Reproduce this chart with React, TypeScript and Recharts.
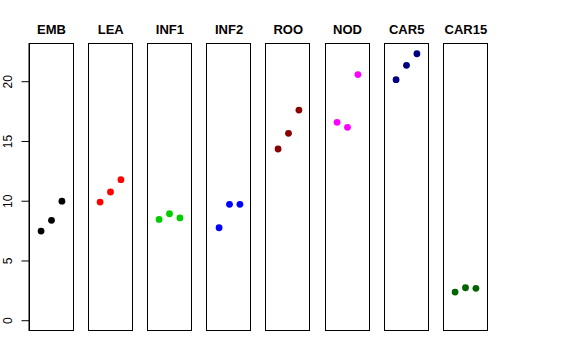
import React from 'react';
import { ScatterChart, Scatter, XAxis, YAxis } from 'recharts';

const panelNames = ['EMB', 'LEA', 'INF1', 'INF2', 'ROO', 'NOD', 'CAR5', 'CAR15'];
const panelColors = ['#000000', '#FF0000', '#00CD00', '#0000FF', '#8B0000', '#FF00FF', '#000080', '#006400'];
const replicate = [1, 2, 3];

const emb = [7.5, 8.4, 10.0];
const lea = [9.93, 10.77, 11.8];
const inf1 = [8.48, 8.95, 8.6];
const inf2 = [7.78, 9.74, 9.74];
const roo = [14.37, 15.68, 17.63];
const nod = [16.6, 16.18, 20.6];
const car5 = [20.17, 21.37, 22.34];
const car15 = [2.4, 2.76, 2.71];

const yTicks = [0, 5, 10, 15, 20];

const seriesValues = [emb, lea, inf1, inf2, roo, nod, car5, car15];

const Y_DOMAIN: [number, number] = [-0.86, 23.24];
const X_DOMAIN: [number, number] = [-0.16, 4.16];
const FONT = '"Liberation Sans", Arial, Helvetica, sans-serif';

const PLOT_TOP = 43;
const PLOT_H = 288;
const PLOT_W = 45;
const FIRST_LEFT = 29;
const STEP = 59.2;

function YTick(props: any) {
  const { y, payload } = props;
  const cx = 8.5;
  return (
    <text
      x={cx}
      y={y}
      textAnchor="middle"
      dominantBaseline="central"
      transform={`rotate(-90, ${cx}, ${y})`}
      fontSize={12}
      fontFamily={FONT}
      fill="#000"
    >
      {payload.value}
    </text>
  );
}

function Panel({ index }: { index: number }) {
  const first = index === 0;
  const left = FIRST_LEFT + index * STEP;
  const data = replicate.map((x, i) => ({ x, y: seriesValues[index][i] }));
  const color = panelColors[index];
  const yAxisW = first ? FIRST_LEFT : 0;
  return (
    <>
      <div
        style={{
          position: 'absolute',
          left: left - 20,
          width: PLOT_W + 40,
          top: 23,
          lineHeight: '13px',
          fontSize: 13,
          fontWeight: 'bold',
          fontFamily: FONT,
          textAlign: 'center',
          color: '#000',
        }}
      >
        {panelNames[index]}
      </div>
      <div style={{ position: 'absolute', left: left - yAxisW, top: 0 }}>
        <ScatterChart
          width={PLOT_W + yAxisW}
          height={PLOT_TOP + PLOT_H}
          margin={{ top: PLOT_TOP, right: 0, bottom: 0, left: 0 }}
        >
          <XAxis type="number" dataKey="x" domain={X_DOMAIN} hide allowDataOverflow />
          <YAxis
            type="number"
            dataKey="y"
            domain={Y_DOMAIN}
            allowDataOverflow
            hide={!first}
            width={yAxisW || 60}
            ticks={yTicks}
            interval={0}
            tickSize={7.5}
            tick={<YTick />}
            stroke="#000"
            axisLine={{ stroke: '#000' }}
            tickLine={{ stroke: '#000' }}
          />
          <Scatter
            data={data}
            isAnimationActive={false}
            fill={color}
            shape={(p: any) => <circle cx={p.cx} cy={p.cy} r={3.4} fill={color} />}
          />
        </ScatterChart>
      </div>
      <div
        style={{
          position: 'absolute',
          left: left - 0.5,
          top: PLOT_TOP - 0.5,
          width: PLOT_W,
          height: PLOT_H,
          border: '1px solid #000',
          boxSizing: 'border-box',
          pointerEvents: 'none',
        }}
      />
    </>
  );
}

export default function App() {
  return (
    <div style={{ position: 'absolute', left: 0, top: 0, width: 576, height: 360, background: '#fff' }}>
      {panelNames.map((_, i) => (
        <Panel key={i} index={i} />
      ))}
    </div>
  );
}
